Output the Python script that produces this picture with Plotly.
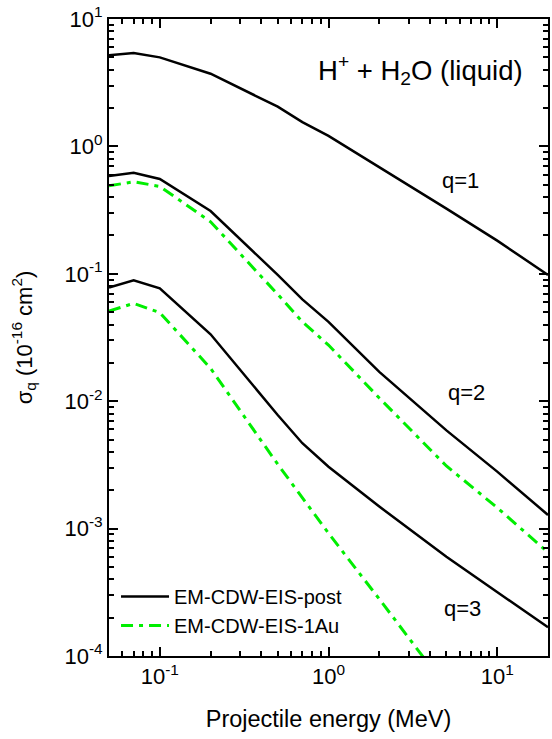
import plotly.graph_objects as go

# Projectile energy grid (MeV)
energy = [0.05, 0.07, 0.1, 0.2, 0.5, 0.7, 1.0, 2.0, 5.0, 10.0, 20.0]

# EM-CDW-EIS-post cross sections (10^-16 cm^2)
post_q1 = [5.2, 5.4, 5.0, 3.72, 2.05, 1.55, 1.21, 0.69, 0.325, 0.182, 0.098]
post_q2 = [0.586, 0.622, 0.555, 0.311, 0.098, 0.063, 0.042, 0.0170, 0.0059, 0.0028, 0.00128]
post_q3 = [0.078, 0.089, 0.077, 0.0335, 0.0078, 0.00468, 0.00306, 0.00149, 0.00060, 0.00032, 0.000168]

# EM-CDW-EIS-1Au cross sections (10^-16 cm^2)
au_q2 = [0.49, 0.528, 0.485, 0.256, 0.069, 0.042, 0.0276, 0.0106, 0.0031, 0.00146, 0.00065]
au_q3 = [0.051, 0.0586, 0.0496, 0.0181, 0.0032, 0.00175, 0.00092, 0.00028, 0.000058, 0.000017, 0.000005]

y_tick_vals = [1e-4, 1e-3, 1e-2, 1e-1, 1e0, 1e1]
y_tick_text = ["10<sup>-4</sup>", "10<sup>-3</sup>", "10<sup>-2</sup>",
               "10<sup>-1</sup>", "10<sup>0</sup>", "10<sup>1</sup>"]
x_tick_vals = [1e-1, 1e0, 1e1]
x_tick_text = ["10<sup>-1</sup>", "10<sup>0</sup>", "10<sup>1</sup>"]

FONT = "Liberation Sans, Arial, sans-serif"
BLACK = "#000000"
GREEN = "#00ee00"

fig = go.Figure()

# Solid black curves: q=1, 2, 3 (legend entry on the first only)
for i, ys in enumerate([post_q1, post_q2, post_q3]):
    fig.add_trace(go.Scatter(
        x=energy, y=ys, mode="lines", name="EM-CDW-EIS-post",
        showlegend=(i == 0),
        line=dict(color=BLACK, width=2.5),
    ))

# Green dash-dot curves: q=2, 3
for i, ys in enumerate([au_q2, au_q3]):
    fig.add_trace(go.Scatter(
        x=energy, y=ys, mode="lines", name="EM-CDW-EIS-1Au",
        showlegend=(i == 0),
        line=dict(color=GREEN, width=3, dash="12px,6px,4px,6px"),
    ))

minor_x = [m * 10 ** d for d in (-2, -1, 0, 1) for m in range(2, 10)]
minor_y = [m * 10 ** d for d in (-4, -3, -2, -1, 0) for m in range(2, 10)]

axis_common = dict(
    showline=True, linewidth=2, linecolor=BLACK, mirror="allticks",
    ticks="inside", ticklen=9, tickwidth=1.5, tickcolor=BLACK,
    showgrid=False, zeroline=False,
    tickfont=dict(family=FONT, size=22, color=BLACK),
)

fig.update_xaxes(
    type="log", range=[-1.30103, 1.30103],
    tickmode="array", tickvals=x_tick_vals, ticktext=x_tick_text,
    minor=dict(tickmode="array", tickvals=minor_x, ticks="inside",
               ticklen=5, tickwidth=1.5, tickcolor=BLACK, showgrid=False),
    title=dict(text="Projectile energy (MeV)", standoff=22,
               font=dict(family=FONT, size=23.5, color=BLACK)),
    **axis_common,
)
fig.update_yaxes(
    type="log", range=[-4, 1],
    tickmode="array", tickvals=y_tick_vals, ticktext=y_tick_text,
    minor=dict(tickmode="array", tickvals=minor_y, ticks="inside",
               ticklen=5, tickwidth=1.5, tickcolor=BLACK, showgrid=False),
    title=dict(text="σ<sub>q</sub> (10<sup>-16</sup> cm<sup>2</sup>)", standoff=26,
               font=dict(family=FONT, size=22, color=BLACK)),
    **axis_common,
)

annotations = [
    dict(text="H<sup>+</sup> + H<sub>2</sub>O (liquid)", x=0.709, y=0.92, size=27.5),
    dict(text="q=1", x=0.800, y=0.746, size=22),
    dict(text="q=2", x=0.814, y=0.413, size=22),
    dict(text="q=3", x=0.805, y=0.075, size=22),
]
for a in annotations:
    fig.add_annotation(
        text=a["text"], x=a["x"], y=a["y"], xref="paper", yref="paper",
        xanchor="center", yanchor="middle", showarrow=False,
        font=dict(family=FONT, size=a["size"], color=BLACK),
    )

fig.update_layout(
    width=552, height=739,
    margin=dict(l=109, r=2, t=19, b=83),
    plot_bgcolor="white", paper_bgcolor="white",
    font=dict(family=FONT, color=BLACK),
    legend=dict(
        x=0.016, y=0.124, xanchor="left", yanchor="top",
        bgcolor="rgba(0,0,0,0)", borderwidth=0,
        itemwidth=48,
        font=dict(family=FONT, size=20, color=BLACK),
    ),
)

fig.write_html("out.html")
